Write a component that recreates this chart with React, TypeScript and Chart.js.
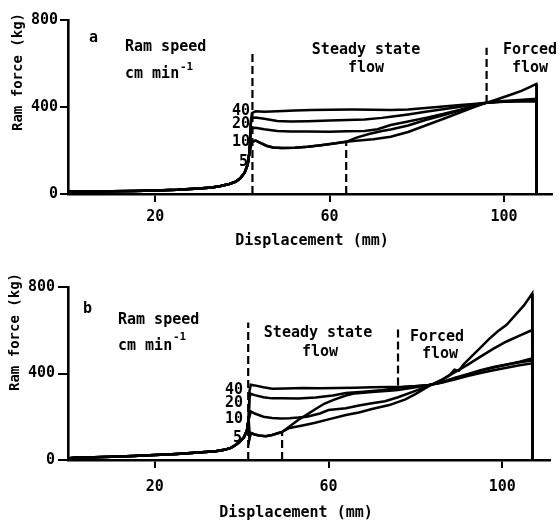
import React, { useEffect, useRef } from 'react';
import { Chart, registerables } from 'chart.js';
Chart.register(...registerables);

type P = [number, number];

const xTicks = [20, 60, 100];
const yTicks = [0, 400, 800];
const speedLabels = ['40', '20', '10', '5'];

// ---------- Panel a (displacement mm, ram force kg) ----------
const baseA: P[] = [[0, 0], [0.4, 10], [2, 12], [6, 12], [10, 13], [15, 14], [20, 16], [25, 19], [30, 25], [33, 30], [35, 37], [37, 46], [38.5, 57], [39.5, 72], [40.5, 98], [41.2, 135], [41.6, 190]];
const a40: P[] = [[41.9, 330], [42.2, 372], [43, 380], [45, 378], [48, 381], [52, 384], [56, 386], [60, 387], [65, 388], [70, 387], [74, 386], [78, 388], [82, 395], [86, 402], [90, 409], [93, 414], [96, 420], [99, 426], [102, 430], [105, 434], [107.4, 437], [107.5, 2]];
const a20: P[] = [[41.9, 320], [42.2, 350], [43, 352], [45, 346], [48, 336], [51, 333], [55, 335], [60, 338], [64, 340], [68, 342], [72, 350], [74, 355], [78, 366], [82, 378], [86, 390], [90, 401], [93, 410], [96, 420], [99, 425], [102, 428], [105, 431], [107.4, 433], [107.5, 2]];
const a10: P[] = [[41.9, 280], [42.2, 302], [43, 305], [45, 298], [48, 290], [51, 287], [55, 287], [60, 286], [64, 288], [68, 290], [71, 298], [74, 317], [78, 333], [82, 350], [86, 368], [90, 388], [93, 404], [96, 419], [99, 423], [102, 426], [105, 427], [107.4, 428], [107.5, 2]];
const a5: P[] = [[41.9, 215], [42.2, 240], [43, 246], [44, 236], [45.5, 222], [47, 214], [49, 212], [52, 213], [55, 217], [58, 224], [61, 232], [63.8, 240]];
const a5Upper: P[] = [[66, 258], [69, 276], [72, 290], [74, 297], [78, 315], [82, 340], [86, 362], [90, 385], [93, 404], [96, 420], [99, 424], [102, 425], [105, 426], [107.4, 427], [107.5, 2]];
const a5Lower: P[] = [[66, 245], [70, 252], [74, 263], [78, 285], [82, 315], [86, 345], [90, 375], [93, 398], [96, 420], [98, 432], [100, 446], [102, 460], [104, 474], [106, 492], [107.4, 506], [107.5, 2]];
const dashA1: P[] = [[42.3, 0], [42.3, 655]];
const dashA2: P[] = [[63.8, 0], [63.8, 236]];
const dashA3: P[] = [[96, 418], [96, 672]];

// ---------- Panel b ----------
const baseB: P[] = [[0, 0], [0.4, 8], [2, 11], [6, 13], [10, 15], [15, 19], [20, 23], [25, 28], [30, 35], [34, 41], [36, 47], [37.5, 56], [38.5, 68], [39.5, 83], [40.5, 105], [41.2, 135], [41.6, 190]];
const b40: P[] = [[41.8, 320], [42.1, 348], [43, 345], [45, 336], [47, 329], [50, 331], [54, 333], [58, 332], [62, 333], [66, 334], [70, 336], [74, 338], [77, 339], [80, 342], [83, 347], [86, 357], [89, 372], [92, 388], [95, 402], [98, 415], [101, 427], [104, 438], [106.9, 447], [107, 2]];
const b20: P[] = [[41.8, 290], [42.1, 306], [43, 300], [45, 290], [47, 285], [49, 285], [53, 284], [57, 289], [61, 298], [64, 310], [68, 316], [72, 322], [76, 334], [80, 340], [83, 346], [86, 360], [89, 380], [92, 397], [95, 415], [98, 430], [101, 442], [104, 455], [106.9, 470], [107, 2]];
const b10: P[] = [[41.8, 200], [42.1, 225], [43, 215], [45, 200], [47, 194], [49, 192], [51, 193], [53, 196], [55, 200], [58, 215], [60, 231], [64, 239], [67, 252], [70, 262], [73, 272], [76, 290], [80, 320], [83, 343], [86, 368], [89, 405], [92, 440], [95, 478], [98, 515], [101, 548], [104, 575], [106.9, 601], [107, 2]];
const b5: P[] = [[41.8, 100], [42.1, 125], [43, 118], [44, 113], [45.5, 110], [47, 116], [48.5, 125], [49.3, 130]];
const b5Upper: P[] = [[51, 155], [53, 185], [55, 210], [57.3, 239], [59, 260], [61, 277], [64, 298], [66, 308], [70, 315], [74, 320], [76, 324], [80, 336], [83, 346], [86, 358], [89, 378], [92, 395], [95, 412], [98, 428], [101, 440], [104, 452], [106.9, 460], [107, 2]];
const b5Lower: P[] = [[51, 148], [54, 160], [56.7, 171], [60, 188], [64, 208], [67, 220], [70, 236], [74, 254], [77.7, 280], [80, 305], [83, 340], [86, 370], [88, 395], [89, 418], [90, 412], [91, 440], [93, 480], [95, 520], [97, 560], [99, 595], [101, 625], [103, 670], [105, 715], [106.9, 770], [107, 2]];
const dashB1: P[] = [[41.5, 0], [41.5, 636]];
const dashB2: P[] = [[49.3, 0], [49.3, 125]];
const dashB3: P[] = [[76, 345], [76, 608]];

const FONT = '"DejaVu Sans Mono", "Liberation Mono", monospace';

type TextItem = { text: string; x: number; y: number; size: number; align: CanvasTextAlign; rotate?: boolean; base?: CanvasTextBaseline };

const textPlugin = (id: string, texts: TextItem[]) => ({
  id,
  afterDraw(chart: any) {
    const ctx: CanvasRenderingContext2D = chart.ctx;
    ctx.save();
    ctx.fillStyle = '#000';
    for (const t of texts) {
      ctx.font = `bold ${t.size}px ${FONT}`;
      ctx.textAlign = t.align;
      ctx.textBaseline = t.base || 'alphabetic';
      if (t.rotate) {
        ctx.save();
        ctx.translate(t.x, t.y);
        ctx.rotate(-Math.PI / 2);
        ctx.fillText(t.text, 0, 0);
        ctx.restore();
      } else {
        ctx.fillText(t.text, t.x, t.y);
      }
    }
    ctx.restore();
  },
});

type PanelSpec = {
  id: string;
  series: P[][];
  dashes: P[][];
  top: number;
  right: number;
  xh: number;
  xpad: number;
  ytl: number;
  ypad: number;
  texts: TextItem[];
};

function makeConfig(p: PanelSpec): any {
  const lineDs = p.series.map((s) => ({
    data: s.map(([x, y]) => ({ x, y })),
    borderColor: '#000',
    borderWidth: 2.5,
    pointRadius: 0,
    fill: false,
    tension: 0,
  }));
  const dashDs = p.dashes.map((s) => ({
    data: s.map(([x, y]) => ({ x, y })),
    borderColor: '#000',
    borderWidth: 2.2,
    borderDash: [8, 4],
    pointRadius: 0,
    fill: false,
  }));
  const tickFont = { family: FONT, size: 15, weight: 'bold' as const };
  return {
    type: 'line',
    data: { datasets: [...lineDs, ...dashDs] },
    options: {
      responsive: false,
      animation: false,
      events: [],
      layout: { padding: { top: p.top, right: p.right, left: 0, bottom: 0 } },
      plugins: { legend: { display: false }, tooltip: { enabled: false }, title: { display: false } },
      scales: {
        x: {
          type: 'linear',
          min: 0,
          max: 111,
          afterBuildTicks: (s: any) => { s.ticks = xTicks.map((v) => ({ value: v })); },
          afterFit: (s: any) => { s.height = p.xh; },
          ticks: { font: tickFont, color: '#000', padding: p.xpad, maxRotation: 0, autoSkip: false },
          grid: { drawOnChartArea: false, drawTicks: true, tickLength: 8, color: '#000', lineWidth: 2 },
          border: { display: true, color: '#000', width: 2.6 },
        },
        y: {
          type: 'linear',
          min: 0,
          max: 800,
          afterBuildTicks: (s: any) => { s.ticks = yTicks.map((v) => ({ value: v })); },
          afterFit: (s: any) => { s.width = 68; },
          ticks: { font: tickFont, color: '#000', padding: p.ypad },
          grid: { drawOnChartArea: false, drawTicks: true, tickLength: p.ytl, color: '#000', lineWidth: 2 },
          border: { display: true, color: '#000', width: 2.6 },
        },
      },
    },
    plugins: [textPlugin(p.id + '-texts', p.texts)],
  };
}

const panelA: PanelSpec = {
  id: 'a',
  series: [
    [...baseA, ...a40],
    [...baseA, ...a20],
    [...baseA, ...a10],
    [...baseA, ...a5, ...a5Lower],
    [...baseA, ...a5, ...a5Upper],
  ],
  dashes: [dashA1, dashA2, dashA3],
  top: 20,
  right: 8,
  xh: 66,
  xpad: 6,
  ytl: 8,
  ypad: 2,
  texts: [
    { text: 'a', x: 89, y: 42, size: 15, align: 'left' },
    { text: 'Ram speed', x: 125, y: 51, size: 15, align: 'left' },
    { text: 'cm min', x: 125, y: 78, size: 15, align: 'left' },
    { text: '-1', x: 180, y: 70, size: 11, align: 'left' },
    { text: 'Steady state', x: 366, y: 54, size: 15, align: 'center' },
    { text: 'flow', x: 366, y: 72, size: 15, align: 'center' },
    { text: 'Forced', x: 530, y: 54, size: 15, align: 'center' },
    { text: 'flow', x: 530, y: 72, size: 15, align: 'center' },
    { text: speedLabels[0], x: 250, y: 115, size: 15, align: 'right' },
    { text: speedLabels[1], x: 250, y: 128, size: 15, align: 'right' },
    { text: speedLabels[2], x: 250, y: 146, size: 15, align: 'right' },
    { text: speedLabels[3], x: 248, y: 166, size: 15, align: 'right' },
    { text: 'Ram force (kg)', x: 18, y: 72, size: 14, align: 'center', rotate: true, base: 'middle' },
    { text: 'Displacement (mm)', x: 312, y: 245, size: 15, align: 'center' },
  ],
};

const panelB: PanelSpec = {
  id: 'b',
  series: [
    [...baseB, ...b40],
    [...baseB, ...b20],
    [...baseB, ...b10],
    [...baseB, ...b5, ...b5Lower],
    [...baseB, ...b5, ...b5Upper],
  ],
  dashes: [dashB1, dashB2, dashB3],
  top: 27,
  right: 10,
  xh: 60,
  xpad: 10,
  ytl: 10,
  ypad: 3,
  texts: [
    { text: 'b', x: 83, y: 53, size: 15, align: 'left' },
    { text: 'Ram speed', x: 118, y: 64, size: 15, align: 'left' },
    { text: 'cm min', x: 118, y: 90, size: 15, align: 'left' },
    { text: '-1', x: 173, y: 80, size: 11, align: 'left' },
    { text: 'Steady state', x: 318, y: 77, size: 15, align: 'center' },
    { text: 'flow', x: 320, y: 96, size: 15, align: 'center' },
    { text: 'Forced', x: 437, y: 81, size: 15, align: 'center' },
    { text: 'flow', x: 440, y: 98, size: 15, align: 'center' },
    { text: speedLabels[0], x: 243, y: 134, size: 15, align: 'right' },
    { text: speedLabels[1], x: 243, y: 147, size: 15, align: 'right' },
    { text: speedLabels[2], x: 243, y: 163, size: 15, align: 'right' },
    { text: speedLabels[3], x: 242, y: 182, size: 15, align: 'right' },
    { text: 'Ram force (kg)', x: 15, y: 72, size: 14, align: 'center', rotate: true, base: 'middle' },
    { text: 'Displacement (mm)', x: 296, y: 257, size: 15, align: 'center' },
  ],
};

function Panel({ spec }: { spec: PanelSpec }) {
  const ref = useRef<HTMLCanvasElement>(null);
  useEffect(() => {
    const chart = new Chart(ref.current as HTMLCanvasElement, makeConfig(spec));
    return () => chart.destroy();
  }, [spec]);
  return <canvas ref={ref} width={560} height={260} style={{ display: 'block', width: 560, height: 260 }} />;
}

export default function App() {
  return (
    <div style={{ position: 'absolute', left: 0, top: 0, width: 560, height: 520, background: '#fff' }}>
      <Panel spec={panelA} />
      <Panel spec={panelB} />
    </div>
  );
}
